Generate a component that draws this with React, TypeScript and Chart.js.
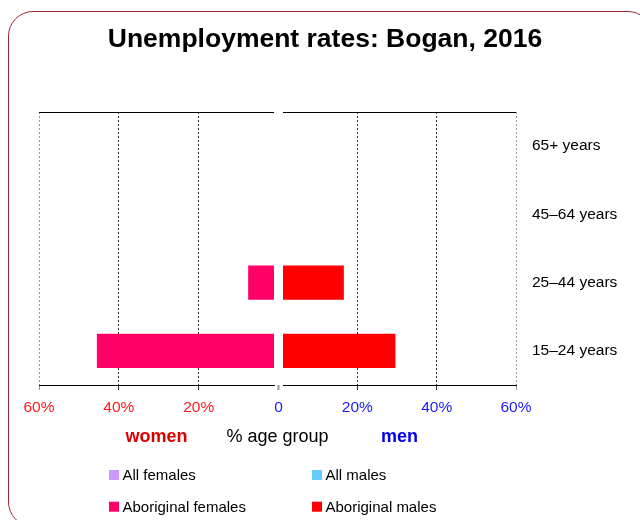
import React, { useEffect, useRef } from 'react';
import { Chart, registerables } from 'chart.js';

Chart.register(...registerables);

// ---------- data ----------
const categories = ['65+ years', '45–64 years', '25–44 years', '15–24 years'];
const allFemales: (number | null)[] = [null, null, null, null];
const allMales: (number | null)[] = [null, null, null, null];
const aboriginalFemales: (number | null)[] = [null, null, 7.6, 45.5];
const aboriginalMales: (number | null)[] = [null, null, 16.6, 29.6];
const seriesLabels = ['All females', 'All males', 'Aboriginal females', 'Aboriginal males'];
const seriesColors = ['#cc99ff', '#66ccff', '#ff0066', '#ff0000'];
const xTickValues = [20, 40, 60];
const zeroTickLabel = '0';
const chartTitle = 'Unemployment rates: Bogan, 2016';
const womenLabel = 'women';
const menLabel = 'men';
const middleLabel = '% age group';

// ---------- styles ----------
const SANS = "'Liberation Sans', Arial, Helvetica, sans-serif";
const RED = '#ff1a1a';
const BLUE = '#1a1aff';
const TICK_SIZE = 15.5;

export default function App() {
  const ref = useRef<HTMLCanvasElement>(null);

  useEffect(() => {
    const canvas = ref.current;
    if (!canvas) return;

    const panelTopLines = {
      id: 'panelTopLines',
      afterDraw(chart: any) {
        const c = chart.ctx;
        const top = Math.round(chart.chartArea.top) + 0.5;
        c.save();
        c.strokeStyle = '#000';
        c.lineWidth = 1;
        ['xL', 'xR'].forEach((id) => {
          const s = chart.scales[id];
          c.beginPath();
          c.moveTo(s.left, top);
          c.lineTo(s.right, top);
          c.stroke();
        });
        c.restore();
      },
    };

    const gridLegend = {
      id: 'gridLegend',
      afterDraw(chart: any) {
        const c = chart.ctx;
        const colX = [109, 312];
        const rowY = [475, 506.7];
        c.save();
        chart.data.datasets.forEach((ds: any, i: number) => {
          const x = colX[i % 2];
          const y = rowY[Math.floor(i / 2)];
          c.fillStyle = ds.backgroundColor;
          c.fillRect(x, y - 5, 10, 10);
          c.fillStyle = '#000';
          c.font = `15px ${SANS}`;
          c.textBaseline = 'middle';
          c.textAlign = 'left';
          c.fillText(ds.label, x + 13.5, y + 1);
        });
        c.restore();
      },
    };

    const sideGrid = (edgeColor: string) => ({
      color: (ctx: any) => (ctx.tick && ctx.tick.value === 60 ? edgeColor : '#333'),
      tickColor: (ctx: any) => (ctx.tick && ctx.tick.value === 60 ? edgeColor : '#333'),
      lineWidth: 1,
      tickLength: 5,
      drawTicks: true,
      drawOnChartArea: true,
    });

    const chart = new Chart(canvas, {
      type: 'bar',
      data: {
        labels: categories,
        datasets: [
          { label: seriesLabels[0], data: allFemales, backgroundColor: seriesColors[0], xAxisID: 'xL', yAxisID: 'y' },
          { label: seriesLabels[1], data: allMales, backgroundColor: seriesColors[1], xAxisID: 'xR', yAxisID: 'y' },
          { label: seriesLabels[2], data: aboriginalFemales, backgroundColor: seriesColors[2], xAxisID: 'xL', yAxisID: 'y' },
          { label: seriesLabels[3], data: aboriginalMales, backgroundColor: seriesColors[3], xAxisID: 'xR', yAxisID: 'y' },
        ],
      } as any,
      options: {
        indexAxis: 'y',
        responsive: false,
        maintainAspectRatio: false,
        animation: false,
        datasets: { bar: { grouped: false, categoryPercentage: 1, barPercentage: 0.505 } } as any,
        layout: { padding: { left: 10, right: 0, top: 0, bottom: 72 } },
        plugins: {
          legend: { display: false },
          tooltip: { enabled: false },
          title: {
            display: true,
            text: chartTitle,
            color: '#000',
            font: { family: SANS, size: 26.5, weight: 'bold' },
            padding: { top: 24, bottom: 56.2 },
          },
        },
        scales: {
          yPad: {
            type: 'linear',
            position: 'left',
            ticks: { display: false },
            grid: { display: false, drawTicks: false },
            border: { display: false },
            afterFit: (s: any) => { s.width = 29; },
          },
          y: {
            type: 'category',
            position: 'right',
            grid: { display: false, drawTicks: false },
            border: { display: false },
            ticks: { padding: 16, color: '#000', font: { family: SANS, size: TICK_SIZE } },
            afterFit: (s: any) => { s.width = 124; },
          },
          xL: {
            type: 'linear',
            position: 'bottom',
            stack: 'x',
            stackWeight: 235,
            reverse: true,
            bounds: 'data',
            min: 1.13,
            max: 60,
            afterBuildTicks: (s: any) => { s.ticks = xTickValues.map((v) => ({ value: v })); },
            ticks: {
              color: RED,
              padding: 8,
              maxRotation: 0,
              font: { family: SANS, size: TICK_SIZE },
              callback: (v: any) => `${v}%`,
            },
            grid: sideGrid('#9a9a9a'),
            border: { display: true, color: '#000', width: 1, dash: [2, 2] },
            title: { display: true, text: womenLabel, color: '#dd0000', font: { family: SANS, size: 18, weight: 'bold' }, padding: 0 },
            afterFit: (s: any) => { s.height = 63; },
          },
          xG: {
            type: 'linear',
            position: 'bottom',
            stack: 'x',
            stackWeight: 9,
            bounds: 'data',
            min: -1,
            max: 1,
            afterBuildTicks: (s: any) => { s.ticks = [{ value: 0 }]; },
            ticks: {
              color: BLUE,
              padding: 8,
              maxRotation: 0,
              font: { family: SANS, size: TICK_SIZE },
              callback: () => zeroTickLabel,
            },
            grid: { drawOnChartArea: false, drawTicks: true, tickLength: 5, tickWidth: 2, tickColor: '#999' },
            border: { display: false },
            afterFit: (s: any) => { s.height = 63; },
          },
          xR: {
            type: 'linear',
            position: 'bottom',
            stack: 'x',
            stackWeight: 233,
            bounds: 'data',
            min: 1.26,
            max: 60,
            afterBuildTicks: (s: any) => { s.ticks = xTickValues.map((v) => ({ value: v })); },
            ticks: {
              color: BLUE,
              padding: 8,
              maxRotation: 0,
              font: { family: SANS, size: TICK_SIZE },
              callback: (v: any) => `${v}%`,
            },
            grid: sideGrid('#9a9a9a'),
            border: { display: true, color: '#000', width: 1, dash: [2, 2] },
            title: { display: true, text: menLabel, color: '#0000ee', font: { family: SANS, size: 18, weight: 'bold' }, padding: 0 },
            afterFit: (s: any) => { s.height = 63; },
          },
          xT: {
            type: 'linear',
            position: 'bottom',
            min: 0,
            max: 1,
            ticks: { display: false },
            grid: { display: false, drawTicks: false },
            border: { display: false },
            title: { display: true, text: middleLabel, color: '#000', font: { family: SANS, size: 18 }, padding: 0 },
            afterFit: (s: any) => { s.height = 0; },
          },
        } as any,
      },
      plugins: [panelTopLines, gridLegend],
    } as any);

    return () => chart.destroy();
  }, []);

  return (
    <div style={{ position: 'fixed', left: 0, top: 0, width: 640, height: 520, overflow: 'hidden' }}>
      <div
        style={{
          position: 'absolute',
          left: 8,
          top: 11,
          width: 645,
          height: 516,
          border: '1.5px solid #9a2a2a',
          borderRadius: 25,
          boxSizing: 'border-box',
        }}
      />
      <canvas
        ref={ref}
        width={640}
        height={520}
        style={{ position: 'absolute', left: 0, top: 0, width: 640, height: 520 }}
      />
    </div>
  );
}
